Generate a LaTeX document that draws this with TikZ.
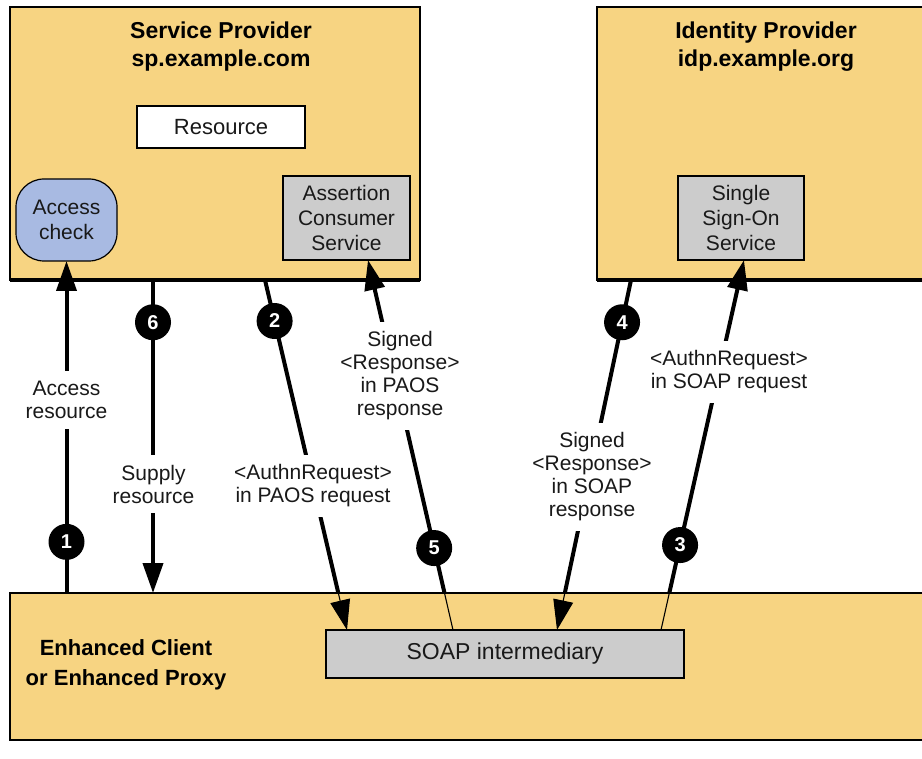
\documentclass[tikz,border=0pt]{standalone}
\usepackage{fontspec}
\setmainfont{Liberation Sans}
\usetikzlibrary{calc,arrows.meta}
\definecolor{panelfill}{RGB}{247,212,130}
\definecolor{checkfill}{RGB}{168,186,226}
\definecolor{servicefill}{RGB}{204,204,204}
\definecolor{inktext}{RGB}{25,25,25}

\begin{document}
\begin{tikzpicture}[x=1pt,y=-1pt,
  panel/.style={draw=black, line width=1.2pt, fill=panelfill, inner sep=0pt, outer sep=0pt, anchor=north west},
  heading/.style={align=center, text=black, font=\fontsize{23}{28}\selectfont\bfseries},
  boxtext/.style={align=center, text=inktext, font=\fontsize{21}{25}\selectfont},
  service/.style={boxtext, draw=black, line width=1.2pt, fill=servicefill, inner sep=0pt, outer sep=0pt},
  plainbox/.style={boxtext, draw=black, line width=1.2pt, fill=white, inner sep=0pt, outer sep=0pt},
  checkbox/.style={boxtext, draw=black, line width=1.2pt, fill=checkfill, rounded corners=28pt, inner sep=0pt, outer sep=0pt},
  heavy/.style={line width=4pt, draw=black},
  light/.style={line width=1.1pt, draw=black},
  tip/.style={-{Triangle[length=30pt,width=20pt]}},
  num/.style={circle, fill=black, text=white, minimum size=36pt, inner sep=0pt, font=\fontsize{20}{20}\selectfont\bfseries},
  tag/.style={fill=white, align=center, text=inktext, inner xsep=10pt, inner ysep=10pt, font=\fontsize{21}{23}\selectfont}
]
\path[use as bounding box, clip] (0,0) rectangle (922,759);

% the three parties
\node[panel, minimum width=410pt, minimum height=273pt] (sp) at (10,7) {};
\node[panel, minimum width=333pt, minimum height=273pt] (idp) at (597,7) {};
\node[panel, minimum width=920pt, minimum height=147pt] (ecp) at (10,593) {};

\node[heading] (sptitle) at (221,47) {Service Provider\\sp.example.com};
\node[heading] (idptitle) at (766,47) {Identity Provider\\idp.example.org};
\node[heading, font=\fontsize{22}{30}\selectfont\bfseries] (ecptitle) at (126,665) {Enhanced Client\\or Enhanced Proxy};

% components inside the parties
\node[plainbox, minimum width=168pt, minimum height=42pt, font=\fontsize{22}{25}\selectfont] (res) at (221,127) {Resource};
\node[checkbox, minimum width=101pt, minimum height=82pt] (acc) at (66.5,220) {Access\\check};
\node[service, minimum width=127pt, minimum height=84pt] (acs) at (346.5,218) {Assertion\\Consumer\\Service};
\node[service, minimum width=126pt, minimum height=84pt] (sso) at (741,218) {Single\\Sign-On\\Service};
\node[service, minimum width=358pt, minimum height=48pt, font=\fontsize{23}{25}\selectfont] (soap) at (505,654) {SOAP intermediary};

% end points of the message flows on the box edges
\coordinate (p6) at ($(sp.south west)+(143,0)$);
\coordinate (p2) at ($(sp.south west)+(255,0)$);
\coordinate (p4) at ($(idp.south west)+(34,0)$);
\coordinate (t2) at ($(soap.north west)+(21,0)$);
\coordinate (s5) at ($(soap.north west)+(127,0)$);
\coordinate (t4) at ($(soap.north west)+(231,0)$);
\coordinate (s3) at ($(soap.north west)+(335,0)$);
\coordinate (a5) at ($(acs.south west)+(85,0)$);
\coordinate (a3) at ($(sso.south west)+(66,0)$);
% where the flows enter the client box
\coordinate (c2) at (intersection of p2--t2 and ecp.north west--ecp.north east);
\coordinate (c4) at (intersection of p4--t4 and ecp.north west--ecp.north east);
\coordinate (c5) at (intersection of s5--a5 and ecp.north west--ecp.north east);
\coordinate (c3) at (intersection of s3--a3 and ecp.north west--ecp.north east);

% message flows
\draw[heavy, tip] (acc.south |- ecp.north) -- node[num, pos=0.154] (n1) {1} (acc.south);
\draw[heavy, tip] (p6) -- node[num, pos=0.135] (n6) {6} (p6 |- ecp.north);
\draw[heavy] (p2) -- node[num, pos=0.131] (n2) {2} (c2);
\draw[light, tip] (c2) -- (t2);
\draw[heavy] (p4) -- node[num, pos=0.135] (n4) {4} (c4);
\draw[light, tip] (c4) -- (t4);
\draw[light] (s5) -- (c5);
\draw[heavy, tip] (c5) -- node[num, pos=0.135] (n5) {5} (a5);
\draw[light] (s3) -- (c3);
\draw[heavy, tip] (c3) -- node[num, pos=0.144] (n3) {3} (a3);

% heavy lower edges of the provider boxes
\draw[line width=4pt] (sp.south west) -- (sp.south east);
\draw[line width=4pt] (idp.south west) -- (idp.south east);

% flow labels
\node[tag] (l1) at (66.5,400) {Access\\resource};
\node[tag] (l6) at (153.5,484) {Supply\\resource};
\node[tag] (l2) at (313,486) {<AuthnRequest>\\in PAOS request};
\node[tag] (l5) at (400,376) {Signed\\<Response>\\in PAOS\\response};
\node[tag] (l4) at (592,477) {Signed\\<Response>\\in SOAP\\response};
\node[tag] (l3) at (729,372) {<AuthnRequest>\\in SOAP request};

\end{tikzpicture}
\end{document}
